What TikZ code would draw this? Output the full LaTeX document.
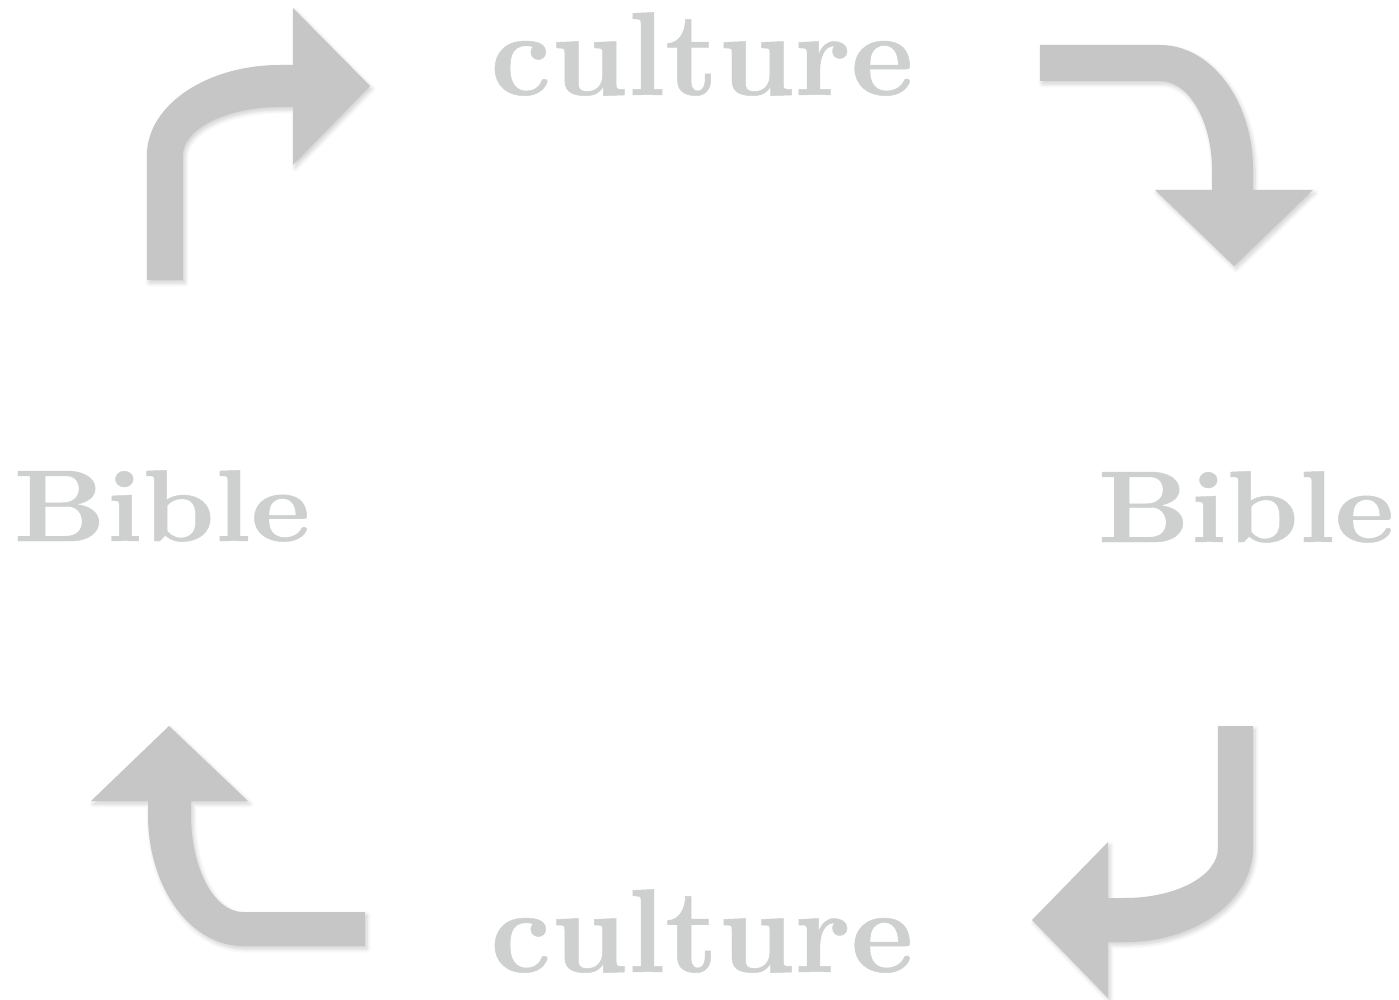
\documentclass[tikz,border=0pt]{standalone}
\usepackage{fontspec}
\newfontfamily\heavyfont{lmroman10-bold.otf}[FakeBold=0.4]
\usetikzlibrary{shadows.blur}
\definecolor{arrowgray}{HTML}{C6C6C6}
\definecolor{textgray}{HTML}{CED0CF}
\tikzset{
  bigarrow/.style={fill=arrowgray, draw=none,
    blur shadow={shadow xshift=2pt, shadow yshift=-3pt, shadow blur steps=6,
      shadow blur radius=4pt, shadow opacity=18}},
  word/.style={text=textgray, inner sep=0pt, anchor=base},
  cultureword/.style={word, font={\heavyfont\fontsize{119}{119}\selectfont}},
  bibleword/.style={word, font={\heavyfont\fontsize{102}{102}\selectfont}},
}
\begin{document}
\begin{tikzpicture}[x=1pt,y=1pt]
\useasboundingbox (0,0) rectangle (1399,-1000);

% texts
\node[cultureword] (ctop) at (702,-95) {culture};
\node[cultureword] (cbot) at (702,-972) {culture};
\node[bibleword] (bleft) at (162,-541) {\scalebox{1.11}[1]{Bible}};
\node[bibleword] (bright) at (1246,-542) {\scalebox{1.11}[1]{Bible}};

% arrow 1: top left, up then right
\path[bigarrow] (147,-280) -- (147,-155)
  arc[start angle=180, end angle=90, x radius=133, y radius=90]
  -- (293,-65) -- (293,-8) -- (370,-86) -- (293,-165) -- (293,-107) -- (280,-107)
  arc[start angle=90, end angle=180, x radius=97, y radius=48]
  -- (183,-280) -- cycle;

% arrow 2: top right, right then down
\path[bigarrow] (1040,-45) -- (1160,-45)
  arc[start angle=90, end angle=0, x radius=93, y radius=125]
  -- (1253,-190) -- (1313,-190) -- (1234,-266) -- (1155,-190) -- (1212,-190) -- (1212,-170)
  arc[start angle=0, end angle=90, x radius=52, y radius=89]
  -- (1040,-81) -- cycle;

% arrow 3: bottom right, down then left
\path[bigarrow] (1253,-726) -- (1253,-848)
  arc[start angle=0, end angle=-90, x radius=128, y radius=94]
  -- (1108,-942) -- (1108,-998) -- (1032,-920) -- (1108,-842) -- (1108,-898) -- (1125,-898)
  arc[start angle=-90, end angle=0, x radius=93, y radius=50]
  -- (1218,-726) -- cycle;

% arrow 4: bottom left, left then up
\path[bigarrow] (365,-912) -- (243,-912)
  arc[start angle=270, end angle=180, x radius=52, y radius=97]
  -- (191,-801) -- (248,-801) -- (169,-726) -- (91,-801) -- (148,-801) -- (148,-815)
  arc[start angle=180, end angle=270, x radius=95, y radius=131]
  -- (365,-946) -- cycle;
\end{tikzpicture}
\end{document}
